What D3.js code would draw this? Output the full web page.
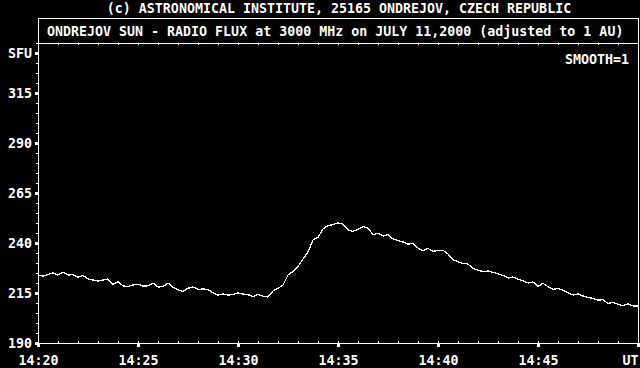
<!DOCTYPE html>
<html>
<head>
<meta charset="utf-8">
<script src="https://cdn.jsdelivr.net/npm/d3@7"></script>
<style>
body { margin: 0; background: #000; }
svg { display: block; }
text { font-family: 'DejaVu Sans Mono', monospace; font-weight: bold; font-size: 13.3px; fill: #fff; }
</style>
</head>
<body>
<div id="chart"></div>
<script>
const credit = '(c) ASTRONOMICAL INSTITUTE, 25165 ONDREJOV, CZECH REPUBLIC'
const title = 'ONDREJOV SUN - RADIO FLUX at 3000 MHz on JULY 11,2000 (adjusted to 1 AU)'
const smoothLabel = 'SMOOTH=1'
const startTime = '14:20:00'
const endTime = '14:50:00'
const sampleSeconds = 15
// SFU readings, one every 15 s from 14:20:00
const flux = [
    224, 223.5, 224.3, 225, 224, 225.5, 224, 224.2, 222.8, 223.8,
    222, 221.5, 221, 221.5, 222, 219.3, 220.6, 218.6, 218.2, 219,
    219.4, 218.5, 218.6, 220, 218, 218.2, 220, 217.8, 216.5, 215.8,
    217.4, 218, 216.8, 217, 216.8, 215, 214, 214.5, 214, 214.2,
    215, 214.5, 214.2, 213.2, 214.3, 213.3, 213, 216, 217.3, 219,
    224, 225.7, 228.2, 232, 235.5, 241.5, 242.8, 247, 248.7, 249.2,
    250, 249.5, 246.5, 245.8, 246.8, 248.2, 247.5, 244.2, 244.8, 243.5,
    244.3, 242, 241.2, 240.5, 239.4, 239.8, 237.5, 236, 237.3, 235.8,
    236.2, 236.4, 234.5, 231.6, 230.6, 229.8, 229.5, 227.2, 226.4, 225.7,
    226, 225.3, 224.6, 223.8, 222.5, 223, 221.8, 221.2, 220, 220.5,
    218.4, 219.8, 218.2, 216.8, 217.3, 216.5, 215.2, 214, 214.5, 213.5,
    212.8, 212.3, 211.5, 211.6, 209.8, 210.2, 209.4, 208.6, 209.6, 208.5,
    208.5
]
const yDomain = [190, 340]
const yTicks = [190, 215, 240, 265, 290, 315]
const yUnit = 'SFU'
const xTicks = ['14:20', '14:25', '14:30', '14:35', '14:40', '14:45', '14:50']
const xUnit = 'UT'

const width = 640
const height = 368
const plot = { left: 38, right: 638, top: 43, bottom: 343, boxTop: 18 }

const parseTime = d3.timeParse('%H:%M:%S')
const parseTick = d3.timeParse('%H:%M')
const t0 = parseTime(startTime)
const data = flux.map((v, i) => ({ t: d3.timeSecond.offset(t0, i * sampleSeconds), v: v }))

const x = d3.scaleTime().domain([t0, parseTime(endTime)]).range([plot.left, plot.right])
const y = d3.scaleLinear().domain(yDomain).range([plot.bottom, plot.top])

const svg = d3.select('#chart').append('svg')
    .attr('width', width).attr('height', height)
svg.append('rect').attr('width', width).attr('height', height).attr('fill', '#000')

// frame + title box
svg.append('rect')
    .attr('x', plot.left + .5).attr('y', plot.boxTop + .5)
    .attr('width', plot.right - plot.left).attr('height', plot.bottom - plot.boxTop)
    .attr('fill', 'none').attr('stroke', '#fff')
svg.append('line')
    .attr('x1', plot.left).attr('x2', plot.right + 1)
    .attr('y1', plot.top + .5).attr('y2', plot.top + .5)
    .attr('stroke', '#fff')

svg.append('text').attr('x', (plot.left + plot.right) / 2 + 1).attr('y', 13)
    .attr('text-anchor', 'middle').text(credit)
svg.append('text').attr('x', plot.left + 9).attr('y', 36).text(title)
svg.append('text').attr('x', plot.right - 9).attr('y', 64)
    .attr('text-anchor', 'end').text(smoothLabel)

// minor ticks
const minorX = d3.timeMinute.every(1)
svg.append('g').attr('transform', `translate(0,${plot.bottom})`)
    .call(d3.axisBottom(x).ticks(minorX).tickSize(-2).tickFormat(''))
svg.append('g').attr('transform', `translate(0,${plot.top})`)
    .call(d3.axisTop(x).ticks(minorX).tickSize(-2).tickFormat(''))
svg.append('g').attr('transform', `translate(${plot.left},0)`)
    .call(d3.axisLeft(y).ticks(30).tickSize(2).tickFormat(''))

// major ticks
const xAxis = svg.append('g').attr('transform', `translate(0,${plot.bottom})`)
    .call(d3.axisBottom(x).tickValues(xTicks.map(parseTick)).tickSize(4)
        .tickFormat((d, i) => i == xTicks.length - 1 ? xUnit : xTicks[i]))
xAxis.selectAll('text').attr('y', 22).attr('dy', null)
xAxis.selectAll('.tick:last-of-type text').attr('text-anchor', 'end').attr('x', 0)

const unitAt = yDomain[1] - 5
const yAxis = svg.append('g').attr('transform', `translate(${plot.left},0)`)
    .call(d3.axisLeft(y).tickValues(yTicks.concat([unitAt])).tickSize(3).tickPadding(3)
        .tickFormat(d => d == unitAt ? yUnit : d))
yAxis.selectAll('text').attr('dy', '0.36em')

svg.selectAll('.domain').remove()
svg.selectAll('.tick line').attr('stroke', '#fff')
xAxis.selectAll('.tick line').attr('stroke-width', 3)
yAxis.selectAll('.tick line').attr('stroke-width', 3)
svg.selectAll('.tick text').attr('fill', '#fff')
    .style('font-family', "'DejaVu Sans Mono', monospace").style('font-size', '13.3px')

// flux curve
svg.append('path').datum(data)
    .attr('fill', 'none').attr('stroke', '#fff').attr('stroke-width', 1.3)
    .attr('shape-rendering', 'crispEdges')
    .attr('d', d3.line().x(d => x(d.t)).y(d => y(d.v)))
</script>
</body>
</html>
